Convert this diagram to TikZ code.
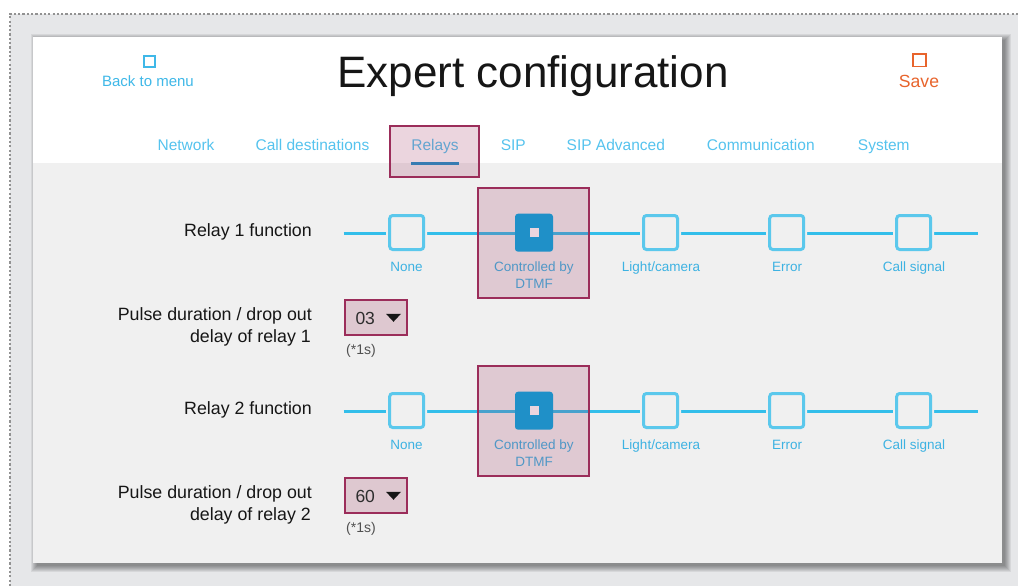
\documentclass[tikz,border=0pt]{standalone}
\usepackage{fontspec}
\setmainfont{Liberation Sans}
\definecolor{outerbg}{HTML}{E6E7E9}
\definecolor{panelbg}{HTML}{F0F0F0}
\definecolor{cyantxt}{HTML}{3FB8E8}
\definecolor{tabtxt}{HTML}{55C3EE}
\definecolor{optline}{HTML}{33BEEA}
\definecolor{optbox}{HTML}{5BC8EC}
\definecolor{optlab}{HTML}{3DB2E2}
\definecolor{selblue}{HTML}{00A9E4}
\definecolor{tabline}{HTML}{1E90C8}
\definecolor{hlborder}{HTML}{9B2D5A}
\definecolor{hlfill}{HTML}{DEC8D0}
\definecolor{savecol}{HTML}{E8642C}
\definecolor{darktxt}{HTML}{161616}
\definecolor{dotcol}{HTML}{929292}
\begin{document}
\begin{tikzpicture}[x=1pt,y=-1pt,
  sz/.style={font=\fontsize{#1pt}{#1pt}\selectfont},
  tab/.style={anchor=base, sz=15.5, text=tabtxt, inner sep=0pt},
  optlabel/.style={anchor=base, sz=13.5, text=optlab, inner sep=0pt},
  rowlabel/.style={anchor=base east, sz=17.8, text=darktxt, inner sep=0pt},
  optsq/.style={draw=optbox, line width=3pt, rounded corners=3pt, minimum size=34pt,
     inner sep=0pt, fill=panelbg, preaction={draw=panelbg, line width=7pt}},
  selsq/.style={fill=selblue, rounded corners=3pt, minimum size=38pt, inner sep=0pt},
  hlbox/.style={draw=hlborder, line width=2pt, fill=hlborder, fill opacity=0.2, draw opacity=1},
  ddbox/.style={draw=hlborder, line width=2pt, fill=hlfill, minimum width=62pt, minimum height=35pt, inner sep=0pt},
  iconsq/.style={draw=#1, line width=1.8pt, minimum size=11pt, inner sep=0pt},
  optline/.style={draw=optline, line width=3.2pt}
]
\useasboundingbox (0,0) rectangle (1018,586);
\fill[white] (0,0) rectangle (1018,586);
\fill[outerbg] (10,14) rectangle (1018,586);
\draw[dotcol, line width=2.2pt, dash pattern=on 2.2pt off 2.1pt] (9.7,586) -- (9.7,14) -- (1018,14);

% panel shadow
\foreach \e in {6,5,4,3,2,1,0}{
  \fill[black, opacity=0.065] (33+4-\e,37+3-\e) rectangle (1002+3+\e,563+3+\e);
}
% panel
\fill[panelbg] (33,37) rectangle (1002,563);
\fill[white] (33,37) rectangle (1002,163);

% header
\node[iconsq=cyantxt] (backicon) at (149.3,61.5) {};
\node[anchor=base, sz=15, text=cyantxt, inner sep=0pt] (back) at (148,86) {Back to menu};
\node[anchor=base, sz=44, text=darktxt, inner sep=0pt] (title) at (533,87.3) {Expert configuration};
\node[iconsq=savecol, minimum size=12.5pt] (saveicon) at (919.5,60.3) {};
\node[anchor=base, sz=17.6, text=savecol, inner sep=0pt] (save) at (919,87.3) {Save};

% tabs
\node[tab] (t1) at (186,150.5) {Network};
\node[tab] (t2) at (312.5,150.5) {Call destinations};
\node[tab] (t3) at (435,150.5) {Relays};
\node[tab] (t4) at (513.3,150.5) {SIP};
\node[tab] (t5) at (615.8,150.5) {SIP Advanced};
\node[tab] (t6) at (760.8,150.5) {Communication};
\node[tab] (t7) at (883.8,150.5) {System};
\fill[tabline] (411,161.6) rectangle (459,165);
\node[hlbox, minimum width=89pt, minimum height=50.5pt, inner sep=0pt] (tabhl) at (434.9,151.5) {};

% relay rows
\foreach \r/\dy/\val in {1/0/03, 2/178/60}{
\begin{scope}[shift={(0,\dy)}]
  \coordinate (ls\r) at (343.5,233.3);
  \coordinate (le\r) at (977.5,233.3);
  \draw[optline] (ls\r) -- (le\r);
  \node[optsq] (o\r a) at (406.7,232.5) {};
  \node[selsq] (o\r b) at (534,232.7) {};
  \node[fill=white, minimum size=9pt, inner sep=0pt] (o\r bi) at (534,232.7) {};
  \node[optsq] (o\r c) at (660.5,232.5) {};
  \node[optsq] (o\r d) at (786.7,232.5) {};
  \node[optsq] (o\r e) at (913.7,232.5) {};
  \node[optlabel] (l\r a) at (406.5,271.7) {None};
  \node[optlabel] (l\r b) at (534,271.7) {Controlled by};
  \node[optlabel] (l\r bb) at (534,288.3) {DTMF};
  \node[optlabel] (l\r c) at (661,271.7) {Light/camera};
  \node[optlabel] (l\r d) at (787,271.7) {Error};
  \node[optlabel] (l\r e) at (914,271.7) {Call signal};
  \node[hlbox, minimum width=111pt, minimum height=110pt, inner sep=0pt] (hl\r) at (533,243.3) {};
  \node[rowlabel] (rl\r) at (312,236) {Relay \r{} function};
  \node[rowlabel] (pa\r) at (312,320) {Pulse duration / drop out};
  \node[rowlabel] (pb\r) at (311,342.3) {delay of relay \r};
  \node[ddbox] (dd\r) at (376,317.4) {};
  \node[anchor=base west, sz=17.5, text=darktxt!90, inner sep=0pt] (ddv\r) at (355.3,324) {\val};
  \fill[darktxt] (386,313.8) -- (401,313.8) -- (393.5,321.8) -- cycle;
  \node[anchor=base west, sz=14, text=darktxt!75, inner sep=0pt] (unit\r) at (346,354) {(*1s)};
\end{scope}
}
\end{tikzpicture}
\end{document}
